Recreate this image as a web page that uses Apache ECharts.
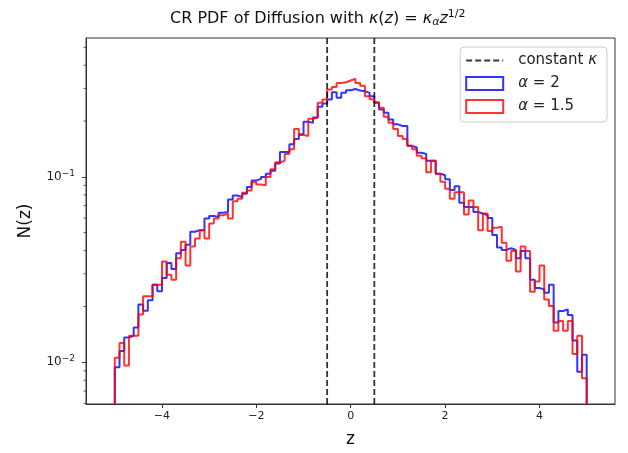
<!DOCTYPE html>
<html>
<head>
<meta charset="utf-8">
<script src="https://cdn.jsdelivr.net/npm/echarts@6/dist/echarts.min.js"></script>
<style>
  html, body { margin: 0; padding: 0; background: #fff; }
  #chart { width: 628px; height: 453px; }
</style>
</head>
<body>
<div id="chart"></div>
<script>
// histogram bins: 100 bins of width 0.1 from z = -5 to 5
var binStart = -5;
var binWidth = 0.1;

// N(z) per bin, alpha = 2 (blue)
var alpha2 = [
  0.0094, 0.0115, 0.0136, 0.0139, 0.0154, 0.0205, 0.0190, 0.0216, 0.0262, 0.0242,
  0.0285, 0.0343, 0.0319, 0.0388, 0.0404, 0.0430, 0.0506, 0.0516, 0.0516, 0.0596,
  0.0616, 0.0608, 0.0641, 0.0647, 0.0756, 0.0794, 0.0778, 0.0811, 0.0881, 0.0955,
  0.0975, 0.100, 0.104, 0.108, 0.118, 0.136, 0.136, 0.150, 0.160, 0.170,
  0.198, 0.196, 0.209, 0.239, 0.249, 0.261, 0.286, 0.267, 0.284, 0.293,
  0.298, 0.292, 0.290, 0.284, 0.272, 0.251, 0.231, 0.222, 0.204, 0.192,
  0.188, 0.188, 0.147, 0.144, 0.135, 0.133, 0.122, 0.122, 0.104, 0.102,
  0.097, 0.085, 0.089, 0.0726, 0.0689, 0.0689, 0.0647, 0.0634, 0.0621, 0.0601,
  0.0486, 0.0416, 0.0404, 0.0412, 0.0404, 0.0364, 0.0399, 0.0364, 0.0279, 0.0252,
  0.0247, 0.0237, 0.0262, 0.0164, 0.0189, 0.0193, 0.0180, 0.0131, 0.0089, 0.0110
];

// N(z) per bin, alpha = 1.5 (red)
var alpha15 = [
  0.0106, 0.0127, 0.0096, 0.0139, 0.0139, 0.0181, 0.0227, 0.0227, 0.0262, 0.0262,
  0.0350, 0.0297, 0.0279, 0.0364, 0.0447, 0.0333, 0.0421, 0.0466, 0.0516, 0.0466,
  0.0561, 0.0596, 0.0621, 0.0634, 0.0596, 0.0738, 0.0762, 0.0821, 0.0845, 0.0937,
  0.091, 0.090, 0.100, 0.110, 0.120, 0.122, 0.133, 0.141, 0.181, 0.168,
  0.166, 0.206, 0.209, 0.251, 0.261, 0.296, 0.305, 0.321, 0.324, 0.331,
  0.338, 0.321, 0.310, 0.272, 0.262, 0.253, 0.236, 0.211, 0.196, 0.181,
  0.166, 0.160, 0.147, 0.141, 0.130, 0.126, 0.106, 0.122, 0.104, 0.094,
  0.0862, 0.0762, 0.0827, 0.0827, 0.0626, 0.0747, 0.0689, 0.0516, 0.0634, 0.0511,
  0.0532, 0.0538, 0.0442, 0.0353, 0.0399, 0.0309, 0.0421, 0.0399, 0.0240, 0.0273,
  0.0333, 0.0218, 0.0201, 0.0148, 0.0167, 0.0148, 0.0167, 0.0111, 0.0139, 0.0082
];

var constKappaZ = [-0.5, 0.5];
var minorTicks = [0.006, 0.007, 0.008, 0.009, 0.02, 0.03, 0.04, 0.05, 0.06, 0.07, 0.08, 0.09, 0.2, 0.3, 0.4, 0.5];

var zMin = -5.61, zMax = 5.6;
var yMin = 0.00596, yMax = 0.561;
var floorVal = 1e-4;

var font = 'DejaVu Sans';

// step outline like matplotlib histtype='step'
function stepData(counts) {
    var pts = [[binStart, floorVal]];
    for (var i = 0; i < counts.length; i++) {
        pts.push([binStart + i * binWidth, counts[i]]);
    }
    var end = binStart + counts.length * binWidth;
    pts.push([end, counts[counts.length - 1]]);
    pts.push([end, floorVal]);
    return pts;
}

var myChart = echarts.init(document.getElementById('chart'));

var legendText = {
    'constant κ': 'constant {i|κ}',
    'α = 2': '{i|α} = 2',
    'α = 1.5': '{i|α} = 1.5'
};

var dashStyle = { color: 'rgba(0,0,0,0.8)', width: 1.8, type: [6, 3] };

option = {
    animation: false,
    title: {
        text: 'CR PDF of Diffusion with {i|κ}({i|z}) = {i|κ}{sub|α}{i|z}{sup|1/2}',
        left: 165,
        top: 4,
        textStyle: {
            fontFamily: font,
            fontSize: 16,
            fontWeight: 'normal',
            color: '#111',
            rich: {
                i: { fontFamily: font, fontSize: 16, fontStyle: 'italic', color: '#111' },
                sub: { fontFamily: font, fontSize: 11, fontStyle: 'italic', color: '#111', verticalAlign: 'bottom', padding: [6, 0, 0, 0] },
                sup: { fontFamily: font, fontSize: 11, color: '#111', verticalAlign: 'top', padding: [0, 0, 8, 0] }
            }
        }
    },
    legend: {
        right: 21,
        top: 47,
        orient: 'vertical',
        itemWidth: 37,
        itemHeight: 13,
        itemGap: 8,
        padding: [6, 10, 8, 5],
        borderColor: '#ccc',
        borderWidth: 1,
        borderRadius: 4,
        backgroundColor: 'rgba(255,255,255,0.8)',
        formatter: function (name) { return legendText[name]; },
        textStyle: {
            fontFamily: font,
            fontSize: 15,
            color: '#222',
            padding: [0, 0, 0, 10],
            rich: {
                i: { fontFamily: font, fontSize: 15, fontStyle: 'italic', color: '#222' }
            }
        },
        data: [
            { name: 'constant κ', itemStyle: { opacity: 0 } },
            { name: 'α = 2', icon: 'rect', itemStyle: { color: 'rgba(255,255,255,0)', borderColor: 'rgba(0,0,255,0.8)', borderWidth: 2 } },
            { name: 'α = 1.5', icon: 'rect', itemStyle: { color: 'rgba(255,255,255,0)', borderColor: 'rgba(255,0,0,0.8)', borderWidth: 2 } }
        ]
    },
    grid: {
        left: 86,
        right: 13,
        top: 38,
        bottom: 46,
        show: true,
        borderColor: '#333',
        borderWidth: 1
    },
    xAxis: {
        type: 'value',
        min: zMin,
        max: zMax,
        splitNumber: 5,
        name: 'z',
        nameLocation: 'middle',
        nameGap: 27,
        nameTextStyle: { fontFamily: font, fontSize: 17, color: '#111' },
        axisLine: { onZero: false, lineStyle: { color: '#333' } },
        axisTick: { length: 4, lineStyle: { color: '#333' } },
        axisLabel: {
            fontFamily: font, fontSize: 11, color: '#222', margin: 7,
            showMinLabel: false, showMaxLabel: false,
            formatter: function (v) { return v < 0 ? '−' + Math.abs(v) : String(v); }
        },
        splitLine: { show: false }
    },
    yAxis: {
        type: 'log',
        logBase: 10,
        min: yMin,
        max: yMax,
        name: 'N(z)',
        nameLocation: 'middle',
        nameGap: 52,
        nameTextStyle: { fontFamily: font, fontSize: 17, color: '#111' },
        axisLine: { onZero: false, lineStyle: { color: '#333' } },
        axisTick: { length: 4, lineStyle: { color: '#333' } },
        axisLabel: {
            fontFamily: font, fontSize: 12, color: '#222', margin: 11,
            showMinLabel: false, showMaxLabel: false,
            formatter: function (v) {
                var e = Math.round(Math.log10(v));
                return '10{e|' + (e < 0 ? '−' + Math.abs(e) : e) + '}';
            },
            rich: {
                e: { fontFamily: font, fontSize: 9, color: '#222', verticalAlign: 'top', padding: [0, 0, 7, 0] }
            }
        },
        splitLine: { show: false }
    },
    series: [
        {
            name: 'α = 2',
            type: 'line',
            step: 'end',
            symbol: 'none',
            data: stepData(alpha2),
            lineStyle: { color: 'rgba(0,0,255,0.8)', width: 2 },
            itemStyle: { color: 'rgba(0,0,255,0.8)' },
            z: 3
        },
        {
            name: 'α = 1.5',
            type: 'line',
            step: 'end',
            symbol: 'none',
            data: stepData(alpha15),
            lineStyle: { color: 'rgba(255,0,0,0.8)', width: 2 },
            itemStyle: { color: 'rgba(255,0,0,0.8)' },
            z: 4
        },
        {
            name: 'constant κ',
            type: 'line',
            symbol: 'none',
            data: [[constKappaZ[0], yMin], [constKappaZ[0], yMax]],
            lineStyle: dashStyle,
            itemStyle: { color: 'rgba(0,0,0,0.8)' },
            z: 5
        },
        {
            name: 'constant κ',
            type: 'line',
            symbol: 'none',
            data: [[constKappaZ[1], yMin], [constKappaZ[1], yMax]],
            lineStyle: dashStyle,
            itemStyle: { color: 'rgba(0,0,0,0.8)' },
            z: 5
        },
        {
            // log minor ticks, matplotlib style
            type: 'custom',
            silent: true,
            data: minorTicks.map(function (v) { return [zMin, v]; }),
            renderItem: function (params, api) {
                var p = api.coord([api.value(0), api.value(1)]);
                return {
                    type: 'line',
                    shape: { x1: p[0] - 2.5, y1: p[1], x2: p[0], y2: p[1] },
                    style: { stroke: '#333', lineWidth: 0.8 }
                };
            },
            z: 6
        }
    ]
};

myChart.setOption(option);
</script>
</body>
</html>
